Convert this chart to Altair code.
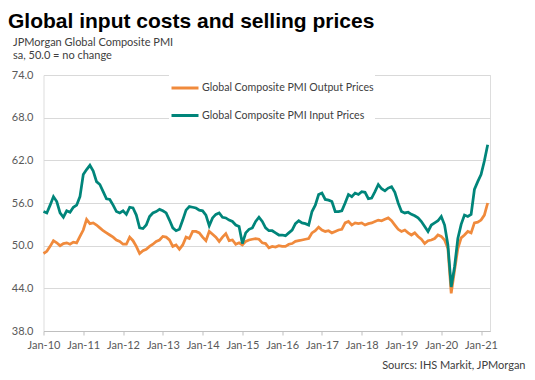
import altair as alt
import pandas as pd

# Monthly data, Jan-2010 .. Mar-2021
output_prices = [
    48.9, 49.2, 49.9, 50.7, 50.4, 50.0, 50.3, 50.4, 50.2, 50.5, 50.4, 51.3,
    52.2, 53.7, 53.1, 53.2, 52.9, 52.5, 52.1, 51.8, 51.5, 51.2, 50.8, 50.6,
    50.2, 50.2, 51.2, 50.7, 49.9, 48.9, 49.3, 49.5, 49.9, 50.2, 50.6, 50.8,
    51.3, 51.2, 50.8, 49.9, 50.1, 49.5, 50.1, 51.2, 51.0, 52.0, 52.0, 51.8,
    51.2, 50.7, 52.0, 51.6, 51.2, 50.6, 51.2, 51.7, 50.7, 50.8, 50.2, 50.4,
    50.1, 50.6, 50.8, 50.9, 51.0, 50.9, 50.4, 50.3, 49.7, 49.9, 49.8, 50.0,
    49.9, 49.9, 50.2, 50.3, 50.6, 50.7, 50.8, 50.9, 51.0, 51.8, 52.1, 52.6,
    52.2, 52.0, 52.1, 51.8, 52.0, 52.2, 52.3, 53.2, 53.4, 52.9, 53.2, 53.1,
    53.2, 52.9, 53.1, 53.2, 53.4, 53.6, 53.5, 53.7, 53.9, 53.5, 52.9, 52.3,
    52.0, 52.2, 51.8, 51.5, 51.8, 51.3, 50.9, 50.3, 50.7, 50.8, 51.0, 51.5,
    51.3, 50.8, 49.6, 43.3, 46.5, 49.6, 51.1, 51.5, 52.0, 51.8, 53.2, 53.3,
    53.6, 54.3, 56.0,
]
input_prices = [
    54.8, 54.6, 55.7, 56.9, 56.2, 54.6, 54.0, 54.9, 54.7, 55.4, 55.7, 56.9,
    60.0, 60.7, 61.3, 60.5, 59.0, 58.6, 57.6, 56.6, 56.5, 55.7, 54.8, 54.6,
    54.9, 54.4, 55.4, 55.3, 54.3, 52.5, 52.4, 52.9, 54.1, 54.6, 54.8, 55.1,
    54.9, 54.6, 53.6, 52.5, 52.1, 52.3, 53.6, 55.0, 55.5, 55.4, 55.3, 55.0,
    54.9, 54.3, 52.8, 53.9, 54.4, 54.6, 54.0, 53.9, 53.6, 53.4, 52.9, 52.7,
    50.3, 51.8, 52.3, 52.5, 53.4, 54.0, 53.4, 52.5, 52.1, 52.1, 51.8, 51.5,
    51.5, 51.4, 51.8, 52.2, 53.1, 53.5, 53.2, 53.1, 52.9, 54.8, 55.7, 57.2,
    57.4, 56.5, 56.4, 56.2, 54.8, 54.8, 54.9, 56.0, 57.2, 56.9, 57.4, 57.2,
    57.6, 57.5, 56.6, 56.7, 57.6, 58.6, 58.0, 57.7, 58.1, 58.3, 57.5, 56.0,
    54.8, 54.6, 54.7, 54.4, 54.2, 53.9, 53.4, 52.7, 52.0, 52.9, 53.2, 53.5,
    54.1, 52.9, 50.1, 44.2, 47.0, 51.0, 53.0, 54.3, 54.1, 54.4, 57.9, 59.0,
    60.0, 61.9, 64.2,
]
series_names = ["Global Composite PMI Output Prices", "Global Composite PMI Input Prices"]
series_colors = ["#F08A3C", "#00857A"]
tick_labels = ["Jan-10", "Jan-11", "Jan-12", "Jan-13", "Jan-14", "Jan-15",
               "Jan-16", "Jan-17", "Jan-18", "Jan-19", "Jan-20", "Jan-21"]
y_ticks = [38.0, 44.0, 50.0, 56.0, 62.0, 68.0, 74.0]

n = len(output_prices)
df = pd.DataFrame({
    "t": list(range(n)) * 2,
    "value": output_prices + input_prices,
    "series": [series_names[0]] * n + [series_names[1]] * n,
})

label_expr = "[" + ",".join("'" + s + "'" for s in tick_labels) + "][round(datum.value/12)]"
FONT = "Lato"

chart = alt.Chart(df).mark_line(strokeWidth=2.75).encode(
    x=alt.X("t:Q",
            scale=alt.Scale(domain=[0, 134.7], nice=False, zero=False),
            axis=alt.Axis(values=[12 * i for i in range(len(tick_labels))],
                          labelExpr=label_expr, grid=False, labelOverlap=False,
                          labelFlush=False, labelAlign="center",
                          domainColor="#bfbfbf", tickColor="#bfbfbf", tickSize=4,
                          labelPadding=4, labelFont=FONT, labelFontSize=11,
                          labelColor="#595959",
                          title="Sourcs: IHS Markit, JPMorgan",
                          titleFont=FONT, titleFontSize=11, titleFontWeight="normal",
                          titleColor="#404040", titleAlign="right", titleAnchor="end",
                          titleX=481.5, titleY=37, titleBaseline="alphabetic")),
    y=alt.Y("value:Q",
            scale=alt.Scale(domain=[38, 74], nice=False, zero=False),
            axis=alt.Axis(values=y_ticks, format=".1f", domain=False, ticks=False,
                          gridColor="#d9d9d9", gridWidth=1,
                          labelPadding=10.5, labelFont=FONT, labelFontSize=11,
                          labelColor="#595959",
                          title=["JPMorgan Global Composite PMI", "sa, 50.0 = no change"],
                          titleFont=FONT, titleFontSize=11, titleFontWeight="normal",
                          titleColor="#404040", titleAngle=0, titleAlign="left",
                          titleX=-31, titleY=-29.5, titleBaseline="alphabetic",
                          titleLineHeight=13)),
    color=alt.Color("series:N",
                    scale=alt.Scale(domain=series_names, range=series_colors),
                    legend=alt.Legend(title=None, orient="none", legendX=125.5, legendY=-3,
                                      fillColor="white", padding=1,
                                      symbolType="stroke", symbolStrokeWidth=3,
                                      symbolSize=729, labelFont=FONT, labelFontSize=10.6,
                                      labelColor="#404040", labelOffset=2,
                                      labelLimit=300, rowPadding=6.5)),
).properties(
    width=446.5,
    height=256,
    autosize=alt.AutoSizeParams(type="none"),
    padding={"left": 35.5, "top": 67, "right": 37, "bottom": 41},
    title=alt.TitleParams("Global input costs and selling prices", anchor="start",
                          frame="group", font="Liberation Sans", fontSize=21,
                          fontWeight="bold", color="black", dx=-35.5, dy=-5, offset=0),
).configure_view(stroke=None).configure(background="white")

chart.save("out.html", embed_options={"renderer": "svg", "actions": False})
